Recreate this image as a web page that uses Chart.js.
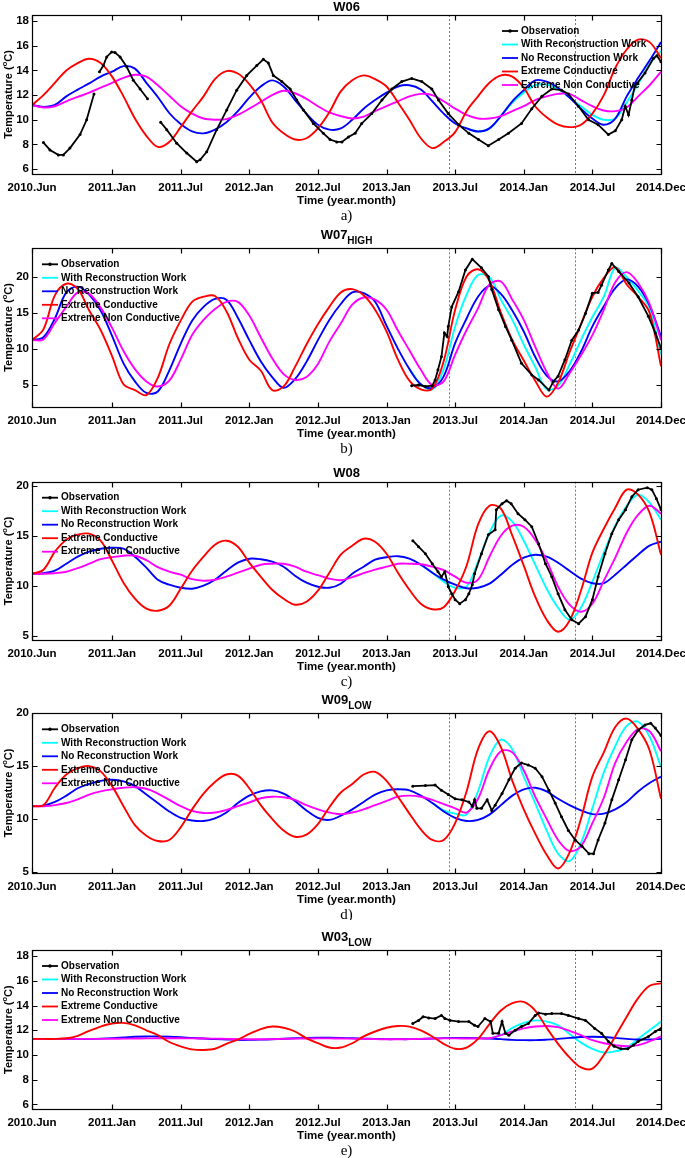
<!DOCTYPE html>
<html>
<head>
<meta charset="utf-8">
<script src="https://cdn.jsdelivr.net/npm/chart.js@4.4.0/dist/chart.umd.min.js"></script>
<style>
  body { margin: 0; background: #fff; }
  #wrap { position: relative; width: 685px; height: 1158px; }
  canvas { position: absolute; left: 0; }
</style>
</head>
<body>
<div id="wrap">
  <canvas id="cA" width="685" height="230" style="top:0px"></canvas>
  <canvas id="cB" width="685" height="230" style="top:230px"></canvas>
  <canvas id="cC" width="685" height="230" style="top:460px"></canvas>
  <canvas id="cD" width="685" height="230" style="top:690px"></canvas>
  <canvas id="cE" width="685" height="238" style="top:920px"></canvas>
</div>
<script>
// months counted from 2010.Jun
var months = [0,1,2,3,4,5,6,7,8,9,10,11,12,13,14,15,16,17,18,19,20,21,22,23,24,25,26,27,
              28,29,30,31,32,33,34,35,36,37,38,39,40,41,42,43,44,45,46,47,48,49,50,51,52,53,54,55];
var xTickMonths = [0,7,13,19,25,31,37,43,49,55];
var xTickLabels = ['2010.Jun','2011.Jan','2011.Jul','2012.Jan','2012.Jul','2013.Jan','2013.Jul','2014.Jan','2014.Jul','2014.Dec'];
var markerMonths = [36.5, 47.5];
var seriesNames = ['Observation','With Reconstruction Work','No Reconstruction Work','Extreme Conductive','Extreme Non Conductive'];

// ---- W06 ----
var redA = [11.2,12.0,13.0,14.0,14.6,14.95,14.6,13.5,11.9,10.1,8.7,7.8,8.2,9.4,10.7,11.9,13.3,13.95,13.75,12.9,11.6,9.8,8.9,8.4,8.5,9.3,10.6,12.3,
            13.2,13.6,13.3,12.7,11.4,10.0,8.5,7.7,8.2,9.0,10.7,11.9,13.0,13.6,13.5,12.6,11.1,10.2,9.6,9.4,9.6,10.5,12.0,14.2,15.7,16.5,16.3,15.0];
var blueA = [11.2,11.05,11.2,11.9,12.45,12.95,13.5,13.9,14.35,14.15,13.0,11.85,10.55,9.65,9.05,8.9,9.2,9.8,10.7,11.8,12.7,13.2,12.7,11.6,10.5,9.6,9.2,9.3,
             10.0,10.9,11.6,12.2,12.7,12.8,12.45,11.5,10.5,9.7,9.3,9.05,9.3,10.3,11.5,12.4,13.2,13.1,12.6,11.8,10.9,10.1,9.6,10.1,11.9,13.4,14.8,16.3];
var magentaA = [11.2,11.0,11.1,11.5,11.85,12.2,12.6,13.0,13.4,13.65,13.5,12.8,11.95,11.1,10.5,10.1,10.0,10.05,10.4,10.9,11.45,12.0,12.35,12.15,11.7,11.1,10.6,10.3,
                10.1,10.25,10.7,11.1,11.5,11.9,12.1,12.0,11.5,10.9,10.4,10.1,10.1,10.3,10.7,11.1,11.6,11.9,12.1,12.1,11.6,11.1,10.75,10.7,11.0,11.9,12.8,13.9];
var cyanA_from = 38;
var cyanA = [9.3,9.05,9.3,10.3,11.4,12.2,12.8,12.85,12.5,11.8,11.1,10.4,10.0,10.1,11.4,12.9,14.5,15.6];
var obsA_month = [1.0,1.57,2.3,2.74,3.32,4.2,4.78,5.42,5.6,5.9,6.24,6.53,6.97,7.26,7.7,8.28,8.86,9.45,10.1,10.6,
                  11.25,11.78,12.65,13.53,14.4,14.7,15.28,16.15,17.03,17.9,18.78,19.65,20.23,20.67,21.1,21.84,22.57,23.15,23.73,24.6,
                  25.48,26.06,26.65,27.1,27.67,28.25,28.83,29.71,30.6,31.46,32.33,33.2,34.08,34.96,35.54,36.4,37.3,38.2,39.04,39.9,
                  40.8,41.66,42.8,43.7,44.58,45.45,46.3,46.9,47.78,48.66,49.5,50.4,51.0,51.57,51.87,52.16,52.45,52.7,53.6,54.35,54.64,55.0];
var obsA_temp = [8.15,7.55,7.15,7.15,7.7,8.8,10.0,12.1,null,13.9,14.4,15.1,15.5,15.45,15.1,14.3,13.2,12.5,11.7,null,
                 9.8,9.2,8.1,7.3,6.6,6.75,7.4,9.2,10.8,12.4,13.6,14.4,14.9,14.6,13.6,13.1,12.5,11.6,10.8,9.7,
                 8.9,8.4,8.2,8.2,8.6,8.9,9.7,10.5,11.6,12.5,13.1,13.35,13.1,12.5,11.6,10.5,9.6,8.9,8.4,7.9,
                 8.4,8.9,9.7,10.9,11.9,12.5,12.4,12.1,11.1,10.0,9.6,8.8,9.1,10.0,11.1,10.4,11.6,12.7,13.8,15.0,15.2,14.7];
var yTicksA = [6,8,10,12,14,16,18];

// ---- W07 HIGH ----
var redB = [11.2,12.7,17.4,19.0,18.3,15.3,12.6,9.0,5.1,4.3,3.6,6.0,10.6,13.9,16.5,17.2,17.3,15.2,11.5,8.5,7.0,4.3,4.8,7.5,10.6,13.4,15.8,17.8,
            18.25,17.4,15.4,12.4,8.5,5.6,4.4,4.5,8.3,15.4,20.0,21.0,19.4,15.0,11.2,8.4,5.6,3.4,5.3,9.5,13.4,17.2,19.8,21.3,18.9,17.2,15.0,7.6];
var blueB = [11.2,11.6,14.2,17.8,18.6,17.5,15.3,11.8,8.0,5.5,3.9,4.1,7.0,10.7,13.9,15.8,16.9,16.8,14.3,11.2,8.3,6.1,4.6,5.8,8.2,11.2,14.0,16.2,
             17.8,17.7,16.5,13.2,10.0,7.2,5.1,4.6,6.2,10.8,14.2,17.2,18.7,17.6,15.3,12.4,8.9,6.3,5.5,6.9,9.6,13.1,15.9,18.4,19.6,18.6,16.0,11.7];
var magentaB = [11.2,11.3,13.6,15.8,17.8,17.6,15.7,12.9,9.7,7.2,5.5,4.8,5.6,8.5,11.9,14.0,15.5,16.5,16.5,14.6,11.6,8.7,6.5,5.7,6.1,7.9,11.0,13.5,
                16.1,17.1,16.8,15.4,12.5,9.8,7.1,5.0,5.5,9.2,12.6,15.6,18.9,19.3,16.8,14.0,10.3,6.8,4.5,6.6,9.1,11.9,15.4,19.2,20.6,19.1,16.2,11.2];
var cyanB_from = 33;
var cyanB = [7.2,5.1,4.4,7.2,13.1,17.5,20.2,19.9,16.8,14.0,10.6,7.5,4.4,4.9,7.8,11.2,14.4,17.2,21.2,19.9,18.0,15.6,9.2];
var obsB_month = [33.2,33.8,34.4,35.0,35.25,35.5,35.8,36.06,36.3,36.4,36.7,37.3,37.9,38.5,39.3,39.9,40.2,40.8,41.4,41.95,
                  42.8,43.7,44.3,45.2,45.6,46.0,46.6,47.2,47.8,48.4,49.0,49.5,49.8,50.4,50.7,51.3,52.2,53.0,53.9,54.5,55.0];
var obsB_temp = [4.9,5.0,4.8,4.9,5.7,7.1,8.9,12.2,11.7,13.1,15.8,17.9,20.9,22.4,21.2,20.0,18.2,15.4,13.1,11.2,
                 8.0,6.4,5.7,4.3,5.5,6.2,8.5,11.2,12.6,14.9,17.7,17.8,18.8,20.9,21.8,20.7,19.1,17.2,14.5,12.2,10.1];
var yTicksB = [5,10,15,20];

// ---- W08 ----
var redC = [11.2,11.6,13.4,14.6,15.1,15.2,14.5,12.5,10.3,8.7,7.7,7.5,8.0,9.7,11.5,12.9,14.1,14.5,13.9,12.3,10.9,9.6,8.7,8.1,8.4,9.5,11.3,13.1,
            14.0,14.7,14.4,13.2,11.3,9.6,8.2,7.65,7.85,9.5,12.0,16.1,18.0,17.7,15.0,12.0,8.9,6.6,5.4,6.5,9.5,13.3,15.7,17.8,19.6,19.1,17.3,13.1];
var blueC = [11.2,11.25,11.5,12.2,12.9,13.4,13.7,13.8,13.7,12.9,11.8,10.6,10.1,9.8,9.7,10.0,10.6,11.5,12.3,12.7,12.65,12.4,11.9,11.0,10.3,9.9,9.8,10.2,
             11.2,11.9,12.6,12.85,12.95,12.7,12.1,11.3,10.6,10.1,9.75,9.8,10.2,11.1,12.1,12.8,13.1,12.9,12.3,11.5,10.7,10.25,10.25,11.1,12.1,13.1,14.0,14.4];
var magentaC = [11.2,11.2,11.25,11.4,11.75,12.2,12.65,12.85,13.0,13.0,12.55,11.85,11.4,11.1,10.65,10.5,10.6,10.9,11.3,11.7,12.1,12.2,12.2,11.9,11.4,11.05,10.7,10.55,
                10.85,11.25,11.6,11.9,12.2,12.2,12.15,11.9,11.55,10.9,10.3,10.6,12.9,15.0,16.0,15.9,14.6,12.5,9.9,8.1,7.4,8.2,10.5,12.8,15.3,17.1,18.0,17.2];
var cyanC_from = 34;
var cyanC = [12.1,11.3,10.4,9.8,9.9,12.4,15.3,17.0,16.4,14.5,12.1,9.7,7.8,6.6,7.8,10.4,13.3,16.0,18.0,19.1,18.3,16.6];
var obsC_month = [33.3,33.8,34.4,35.0,35.5,35.8,36.1,36.4,36.7,37.0,37.4,37.9,38.2,38.5,38.7,39.3,39.9,40.5,40.6,41.1,
                  41.5,41.9,42.5,43.1,43.7,44.3,44.9,45.45,46.0,46.6,47.2,47.8,48.4,49.0,49.5,50.1,50.7,51.3,51.9,52.45,
                  53.0,53.8,54.2,54.6,55.0];
var obsC_temp = [14.5,13.9,13.2,12.2,11.4,10.9,11.4,9.9,9.2,8.6,8.2,8.6,9.2,10.1,11.2,13.2,15.1,15.6,17.6,18.2,
                 18.5,18.2,17.2,16.6,15.9,14.2,12.2,10.9,9.2,7.6,6.6,6.2,6.9,8.6,10.9,13.2,15.2,16.6,17.6,18.9,
                 19.6,19.8,19.6,18.7,17.6];
var yTicksC = [5,10,15,20];

// ---- W09 LOW ----
var redD = [11.2,11.3,12.95,14.2,14.8,15.0,14.5,13.1,11.2,9.4,8.4,7.9,8.0,9.2,10.9,12.4,13.5,14.2,14.1,12.9,11.3,10.0,8.9,8.3,8.5,9.5,11.1,12.5,
            13.3,14.2,14.45,13.6,12.1,10.5,9.0,8.0,8.0,9.6,12.6,16.6,18.3,16.8,13.6,10.9,8.6,6.6,5.3,6.8,10.0,14.0,16.3,18.7,19.5,18.5,16.5,11.9];
var blueD = [11.2,11.25,11.6,12.2,12.9,13.3,13.6,13.7,13.55,13.1,12.3,11.5,10.7,10.1,9.85,9.8,10.05,10.6,11.5,12.2,12.6,12.7,12.4,11.7,10.8,10.1,9.9,10.3,
             10.9,11.6,12.3,12.7,12.8,12.7,12.2,11.5,10.7,10.1,9.8,9.9,10.4,11.3,12.2,12.8,12.95,12.6,11.9,11.3,10.8,10.45,10.5,10.9,11.6,12.6,13.4,14.0];
var magentaD = [11.2,11.2,11.3,11.5,11.85,12.3,12.6,12.8,12.95,13.0,12.85,12.4,11.8,11.2,10.75,10.55,10.6,10.85,11.2,11.55,11.95,12.1,12.05,11.8,11.3,10.9,10.6,10.45,
                10.6,10.9,11.3,11.7,12.1,12.2,12.1,11.8,11.4,11.0,10.6,11.9,14.7,16.4,16.3,14.6,12.1,10.0,8.0,6.95,7.4,9.6,12.0,15.3,17.3,18.5,18.3,16.4];
var cyanD_from = 35;
var cyanD = [11.5,10.8,10.5,10.4,12.6,15.9,17.5,16.6,14.0,11.5,8.9,6.7,6.0,7.7,11.0,14.4,16.9,18.8,19.2,17.8,14.9];
var obsD_month = [33.3,34.4,35.25,35.8,36.4,37.0,37.6,38.2,38.5,38.7,38.9,39.3,39.8,40.2,40.5,41.1,41.7,42.25,42.8,43.4,
                  44.0,44.6,45.2,45.75,46.3,46.9,47.5,48.1,48.7,49.1,49.5,50.1,50.7,51.3,51.9,52.45,53.0,53.6,54.1,54.5,55.0];
var obsD_temp = [13.1,13.15,13.2,12.7,12.3,11.9,11.8,11.6,11.2,11.8,11.0,11.0,11.8,10.8,11.3,12.4,13.7,14.8,15.3,15.1,
                 14.8,14.0,12.7,11.5,10.2,8.9,8.0,7.4,6.7,6.7,8.0,9.6,11.8,13.7,15.6,17.5,18.4,18.9,19.05,18.6,17.9];
var yTicksD = [5,10,15,20];

// ---- W03 LOW ----
var redE = [11.3,11.3,11.3,11.35,11.55,11.95,12.3,12.55,12.6,12.4,12.0,11.6,11.05,10.7,10.45,10.4,10.5,10.9,11.25,11.7,12.1,12.3,12.2,11.9,11.35,10.95,10.6,10.6,
            10.95,11.5,11.9,12.2,12.35,12.3,12.0,11.5,10.9,10.5,10.6,11.3,12.5,13.6,14.2,14.3,13.6,12.2,10.9,9.8,9.0,8.9,10.0,11.5,13.1,14.6,15.6,15.8];
var blueE = [11.3,11.3,11.3,11.3,11.3,11.3,11.32,11.36,11.42,11.48,11.5,11.5,11.48,11.44,11.38,11.33,11.28,11.25,11.22,11.22,11.24,11.27,11.31,11.35,11.38,11.4,11.4,11.38,
             11.35,11.32,11.3,11.28,11.28,11.28,11.3,11.33,11.36,11.38,11.38,11.36,11.32,11.28,11.22,11.2,11.2,11.24,11.3,11.38,11.45,11.48,11.45,11.38,11.3,11.25,11.25,11.3];
var magentaE = [11.3,11.3,11.3,11.3,11.3,11.3,11.3,11.31,11.32,11.33,11.34,11.35,11.35,11.35,11.34,11.33,11.32,11.3,11.28,11.27,11.27,11.28,11.3,11.32,11.33,11.34,11.34,11.33,
                11.32,11.3,11.28,11.27,11.27,11.28,11.3,11.32,11.34,11.34,11.33,11.33,11.35,11.6,11.9,12.15,12.3,12.35,12.25,11.95,11.6,11.2,10.95,10.8,10.7,10.8,11.1,11.5];
var cyanE_from = 40;
var cyanE = [11.35,11.6,12.2,12.6,12.8,12.7,12.4,11.7,11.0,10.5,10.2,10.3,10.6,11.3,12.0,12.7];
var obsE_month = [33.3,33.8,34.2,34.7,35.25,35.8,36.1,36.56,37.3,38.2,38.7,39.0,39.6,40.1,40.3,40.8,41.1,41.4,41.7,42.25,
                  42.8,43.4,44.0,44.3,44.9,45.45,46.3,46.9,47.8,48.4,49.2,49.8,50.4,50.9,51.5,52.1,52.6,53.0,53.9,54.5,55.0];
var obsE_temp = [12.55,12.8,13.1,13.0,12.95,13.2,12.95,12.8,12.7,12.7,12.4,12.3,12.95,12.7,11.75,11.75,12.7,11.75,11.6,12.0,
                 12.3,12.55,13.2,13.4,13.3,13.35,13.35,13.2,12.95,12.8,12.15,11.75,11.1,10.7,10.5,10.5,10.8,11.1,11.5,11.9,12.15];
var yTicksE = [6,8,10,12,14,16,18];

var FONT = '"Liberation Sans", Arial, Helvetica, sans-serif';

var decor = {
  id: 'decor',
  beforeDatasetsDraw: function(chart) {
    var ctx = chart.ctx, a = chart.chartArea, xs = chart.scales.x;
    ctx.save();
    ctx.strokeStyle = '#555';
    ctx.lineWidth = 0.8;
    ctx.setLineDash([2, 2]);
    markerMonths.forEach(function(m) {
      var px = Math.round(xs.getPixelForValue(m)) + 0.5;
      ctx.beginPath(); ctx.moveTo(px, a.top); ctx.lineTo(px, a.bottom); ctx.stroke();
    });
    ctx.restore();
  },
  afterDatasetsDraw: function(chart, args, o) {
    var ctx = chart.ctx, a = chart.chartArea, xs = chart.scales.x, ys = chart.scales.y;
    ctx.save();
    // box and inward ticks
    var L = Math.round(a.left) + 0.5, R = Math.round(a.right) + 0.5;
    var T = Math.round(a.top) + 0.5, B = Math.round(a.bottom) + 0.5;
    ctx.strokeStyle = '#000';
    ctx.lineWidth = 1.2;
    ctx.strokeRect(L, T, R - L, B - T);
    ctx.beginPath();
    xs.ticks.forEach(function(t) {
      var px = Math.round(xs.getPixelForValue(t.value)) + 0.5;
      ctx.moveTo(px, B); ctx.lineTo(px, B - 5);
      ctx.moveTo(px, T); ctx.lineTo(px, T + 5);
    });
    ys.ticks.forEach(function(t) {
      var py = Math.round(ys.getPixelForValue(t.value)) + 0.5;
      ctx.moveTo(L, py); ctx.lineTo(L + 5, py);
      ctx.moveTo(R, py); ctx.lineTo(R - 5, py);
    });
    ctx.stroke();

    // legend inside the axes
    ctx.font = 'bold 10px ' + FONT;
    ctx.textBaseline = 'middle';
    ctx.textAlign = 'left';
    chart.data.datasets.forEach(function(d, i) {
      var ly = a.top + 16 + 13.5 * i;
      ctx.strokeStyle = d.borderColor;
      ctx.lineWidth = 1.8;
      ctx.beginPath(); ctx.moveTo(o.legendX, ly); ctx.lineTo(o.legendX + 16, ly); ctx.stroke();
      if (d.pointRadius > 0) {
        ctx.fillStyle = d.borderColor;
        ctx.beginPath(); ctx.arc(o.legendX + 8, ly, 1.8, 0, Math.PI * 2); ctx.fill();
      }
      ctx.fillStyle = '#000';
      ctx.fillText(d.label, o.legendX + 19, ly);
    });

    // panel title
    var cx = (a.left + a.right) / 2;
    ctx.fillStyle = '#000';
    if (o.sub) {
      ctx.font = 'bold 13px ' + FONT;
      var w1 = ctx.measureText(o.title).width;
      ctx.font = 'bold 10px ' + FONT;
      var w2 = ctx.measureText(o.sub).width;
      var sx = cx - (w1 + w2) / 2;
      ctx.font = 'bold 13px ' + FONT;
      ctx.fillText(o.title, sx, a.top - 13);
      ctx.font = 'bold 10px ' + FONT;
      ctx.fillText(o.sub, sx + w1, a.top - 7);
    } else {
      ctx.font = 'bold 13px ' + FONT;
      ctx.textAlign = 'center';
      ctx.fillText(o.title, cx, a.top - 8);
    }

    // x axis title and panel letter
    ctx.textAlign = 'center';
    ctx.font = 'bold 11.5px ' + FONT;
    ctx.fillText('Time (year.month)', cx, a.bottom + 27);
    ctx.font = '15px "Liberation Serif", "Times New Roman", serif';
    ctx.fillText(o.letter, cx, a.bottom + 42);

    // y axis title with superscript o
    ctx.translate(9, (a.top + a.bottom) / 2);
    ctx.rotate(-Math.PI / 2);
    var p1 = 'Temperature (', p2 = 'o', p3 = 'C)';
    ctx.font = 'bold 11px ' + FONT;
    var a1 = ctx.measureText(p1).width, a3 = ctx.measureText(p3).width;
    ctx.font = 'bold 7.5px ' + FONT;
    var a2 = ctx.measureText(p2).width;
    var st = -(a1 + a2 + a3) / 2;
    ctx.textAlign = 'left';
    ctx.font = 'bold 11px ' + FONT;
    ctx.fillText(p1, st, 0);
    ctx.font = 'bold 7.5px ' + FONT;
    ctx.fillText(p2, st + a1, -4);
    ctx.font = 'bold 11px ' + FONT;
    ctx.fillText(p3, st + a1 + a2, 0);
    ctx.restore();
  }
};

function pairs(xsArr, ysArr) {
  return xsArr.map(function(m, i) { return {x: m, y: ysArr[i]}; });
}
function fromStart(start, vals) {
  return vals.map(function(v, i) { return {x: start + i, y: v}; });
}

function makePanel(p) {
  var lineBase = {pointRadius: 0, pointHoverRadius: 0, borderWidth: 1.9, tension: 0.35, fill: false};
  var datasets = [
    {label: seriesNames[0], data: pairs(p.obsM, p.obsT), borderColor: '#000000', backgroundColor: '#000000',
     borderWidth: 1.8, pointRadius: 1.5, pointHoverRadius: 0, pointBorderWidth: 0, tension: 0, spanGaps: false, order: 0},
    Object.assign({label: seriesNames[1], data: fromStart(p.cyanFrom, p.cyan), borderColor: '#00ffff', order: 4}, lineBase),
    Object.assign({label: seriesNames[2], data: pairs(months, p.blue), borderColor: '#0000ff', order: 3}, lineBase),
    Object.assign({label: seriesNames[3], data: pairs(months, p.red), borderColor: '#ff0000', order: 1}, lineBase),
    Object.assign({label: seriesNames[4], data: pairs(months, p.mag), borderColor: '#ff00ff', order: 2}, lineBase)
  ];
  var tickFont = {family: FONT, size: 11.5, weight: 'bold'};
  new Chart(document.getElementById(p.id), {
    type: 'line',
    data: {datasets: datasets},
    options: {
      responsive: false,
      animation: false,
      events: [],
      layout: {padding: {top: p.top, left: 0, right: 24, bottom: p.h - p.bottom - 20}},
      scales: {
        x: {
          type: 'linear', min: 0, max: 55,
          grid: {display: false, drawTicks: false},
          border: {display: false},
          afterBuildTicks: function(s) { s.ticks = xTickMonths.map(function(v) { return {value: v}; }); },
          afterFit: function(s) { s.height = 20; s.paddingLeft = 0; s.paddingRight = 0; },
          ticks: {
            autoSkip: false, maxRotation: 0, padding: 7, color: '#000', font: tickFont,
            callback: function(v) { return xTickLabels[xTickMonths.indexOf(v)]; }
          }
        },
        y: {
          type: 'linear', min: p.yMin, max: p.yMax,
          grid: {display: false, drawTicks: false},
          border: {display: false},
          afterBuildTicks: function(s) { s.ticks = p.yTicks.map(function(v) { return {value: v}; }); },
          afterFit: function(s) { s.width = 32; s.paddingTop = 0; s.paddingBottom = 0; },
          ticks: {padding: 3, color: '#000', font: tickFont, callback: function(v) { return String(v); }}
        }
      },
      plugins: {
        legend: {display: false},
        tooltip: {enabled: false},
        decor: {title: p.title, sub: p.sub, letter: p.letter, legendX: p.legendX}
      }
    },
    plugins: [decor]
  });
}

makePanel({id: 'cA', h: 230, top: 15, bottom: 174, title: 'W06', sub: '', letter: 'a)', legendX: 502,
           yMin: 5.6, yMax: 18.5, yTicks: yTicksA, obsM: obsA_month, obsT: obsA_temp,
           cyanFrom: cyanA_from, cyan: cyanA, blue: blueA, red: redA, mag: magentaA});
makePanel({id: 'cB', h: 230, top: 18.3, bottom: 176.7, title: 'W07', sub: 'HIGH', letter: 'b)', legendX: 42,
           yMin: 2, yMax: 23.9, yTicks: yTicksB, obsM: obsB_month, obsT: obsB_temp,
           cyanFrom: cyanB_from, cyan: cyanB, blue: blueB, red: redB, mag: magentaB});
makePanel({id: 'cC', h: 230, top: 21.7, bottom: 180, title: 'W08', sub: '', letter: 'c)', legendX: 42,
           yMin: 4.57, yMax: 20.4, yTicks: yTicksC, obsM: obsC_month, obsT: obsC_temp,
           cyanFrom: cyanC_from, cyan: cyanC, blue: blueC, red: redC, mag: magentaC});
makePanel({id: 'cD', h: 230, top: 23.3, bottom: 182.7, title: 'W09', sub: 'LOW', letter: 'd)', legendX: 42,
           yMin: 4.9, yMax: 20, yTicks: yTicksD, obsM: obsD_month, obsT: obsD_temp,
           cyanFrom: cyanD_from, cyan: cyanD, blue: blueD, red: redD, mag: magentaD});
makePanel({id: 'cE', h: 238, top: 30, bottom: 189.3, title: 'W03', sub: 'LOW', letter: 'e)', legendX: 42,
           yMin: 5.6, yMax: 18.5, yTicks: yTicksE, obsM: obsE_month, obsT: obsE_temp,
           cyanFrom: cyanE_from, cyan: cyanE, blue: blueE, red: redE, mag: magentaE});
</script>
</body>
</html>
